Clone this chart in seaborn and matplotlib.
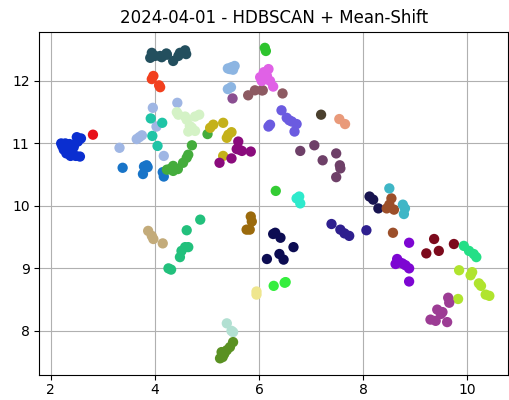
import numpy as np
import pandas as pd
import matplotlib
matplotlib.use('Agg')
import matplotlib.pyplot as plt
import seaborn as sns

title = '2024-04-01 - HDBSCAN + Mean-Shift'

# one entry per cluster: x values, y values, colour
cluster_x = [
    [2.20, 2.28, 2.36, 2.45, 2.52, 2.58, 2.50, 2.25, 2.30, 2.38, 2.48, 2.56, 2.32, 2.44, 2.22],
    [2.81],
    [3.91, 3.94, 4.00, 4.10, 4.13, 4.23, 4.22, 4.35, 4.45, 4.48, 4.58, 4.60],
    [3.94, 3.97, 4.08, 4.10],
    [3.96, 4.43, 3.65, 3.70, 3.75, 3.32, 4.03, 4.17],
    [3.92, 4.14, 3.95, 4.05],
    [3.38, 3.79, 3.84, 3.77, 4.15, 4.17, 3.86],
    [4.23, 4.29, 4.35, 4.35, 4.44, 4.54, 4.61, 4.64, 4.71, 5.01],
    [4.42, 4.45, 4.58, 4.61, 4.67, 4.71, 4.77, 4.64, 4.77, 4.85],
    [5.06, 5.12, 5.31, 5.38, 5.41, 5.47, 5.31],
    [5.60, 5.57, 5.67, 5.84, 5.47, 5.24, 5.62],
    [5.40, 5.47, 5.53, 5.50, 5.44, 5.40, 5.46],
    [5.49],
    [5.79, 5.92, 6.05, 6.07, 6.45],
    [6.11, 6.13],
    [6.05, 6.09, 6.18, 6.21, 6.27, 6.10, 6.15, 6.02],
    [6.43, 6.53, 6.63, 6.72, 6.68, 6.18, 6.21, 6.58],
    [7.19],
    [7.54, 7.65],
    [6.79, 7.06, 7.22, 7.48, 7.55, 7.56, 7.48],
    [6.32],
    [6.77, 6.79, 6.72],
    [8.12, 8.19, 8.29],
    [8.54, 8.50, 8.45, 8.59, 8.57],
    [8.50, 8.76, 8.80, 8.78],
    [6.15, 6.27, 6.31, 6.41, 6.66, 6.39, 6.47],
    [7.39, 7.56, 7.64, 7.73, 8.06],
    [6.28, 6.49, 6.51],
    [3.87, 3.94, 3.97, 4.15],
    [4.87, 4.61, 4.58, 4.64, 4.51, 4.48, 4.26, 4.31],
    [5.84, 5.86, 5.76, 5.82],
    [5.95, 5.95],
    [5.38, 5.47, 5.50],
    [5.25, 5.28, 5.38, 5.44, 5.50, 5.30, 5.33],
    [8.88, 8.65, 8.69, 8.62, 8.81, 8.88, 8.88, 8.75],
    [9.36, 9.21, 9.45, 9.74],
    [9.93, 10.03, 10.12, 10.17],
    [9.84, 10.09, 10.06, 10.22, 10.26, 10.35, 10.42, 9.82],
    [9.63, 9.65, 9.42, 9.52, 9.49, 9.29, 9.39, 9.61],
]
cluster_y = [
    [11.00, 11.00, 10.99, 10.98, 11.03, 11.08, 11.10, 10.90, 10.84, 10.80, 10.80, 10.79, 10.93, 10.94, 10.96],
    [11.14],
    [12.37, 12.45, 12.40, 12.40, 12.38, 12.42, 12.44, 12.32, 12.40, 12.45, 12.49, 12.43],
    [12.03, 12.08, 11.93, 11.90],
    [11.57, 11.65, 11.07, 11.10, 11.13, 10.93, 11.27, 10.80],
    [11.40, 11.33, 11.12, 10.96],
    [10.61, 10.63, 10.65, 10.51, 10.54, 10.47, 10.62],
    [10.58, 10.59, 10.64, 10.56, 10.59, 10.69, 10.77, 10.82, 10.97, 11.15],
    [11.50, 11.46, 11.43, 11.38, 11.28, 11.25, 11.20, 11.19, 11.43, 11.46],
    [11.25, 11.30, 11.33, 11.09, 11.14, 11.18, 10.80],
    [11.03, 10.91, 10.88, 10.87, 10.76, 10.69, 10.90],
    [12.20, 12.22, 12.24, 12.18, 12.19, 11.87, 11.90],
    [11.72],
    [11.77, 11.85, 11.85, 11.85, 11.80],
    [12.53, 12.48],
    [12.00, 12.14, 12.19, 12.00, 11.91, 12.05, 12.08, 12.06],
    [11.53, 11.41, 11.35, 11.31, 11.19, 11.27, 11.30, 11.37],
    [11.46],
    [11.39, 11.31],
    [10.88, 10.97, 10.73, 10.84, 10.65, 10.60, 10.46],
    [10.24],
    [10.15, 10.04, 10.12],
    [10.15, 10.10, 9.96],
    [10.12, 10.02, 9.96, 9.94, 9.57],
    [10.28, 10.02, 9.96, 9.87],
    [9.15, 9.55, 9.57, 9.49, 9.34, 9.23, 9.14],
    [9.71, 9.62, 9.56, 9.52, 9.61],
    [8.72, 8.77, 8.78],
    [9.60, 9.52, 9.47, 9.40],
    [9.78, 9.61, 9.34, 9.34, 9.28, 9.18, 9.00, 8.98],
    [9.83, 9.75, 9.62, 9.62],
    [8.58, 8.63],
    [8.12, 8.00, 7.98],
    [7.56, 7.66, 7.69, 7.74, 7.82, 7.58, 7.63],
    [9.41, 9.15, 9.10, 9.07, 9.05, 9.00, 8.79, 9.08],
    [9.47, 9.24, 9.28, 9.39],
    [9.36, 9.28, 9.23, 9.18],
    [8.97, 8.94, 8.89, 8.76, 8.72, 8.58, 8.56, 8.51],
    [8.53, 8.45, 8.34, 8.30, 8.27, 8.18, 8.16, 8.14],
]
cluster_colors = [
    '#0a2ed0', '#e8101a', '#234f5e', '#f2401e', '#9fb6e4', '#1fc4a6', '#1874c8',
    '#44ac3c', '#d4f2c6', '#c4b11a', '#8a0b7c', '#8cb5e2', '#8a4f91', '#8d5a62',
    '#2ec42e', '#e061e6', '#6b5be0', '#4a402e', '#e99a7a', '#6e4068', '#33cc33',
    '#2eeacc', '#181450', '#9c4f2a', '#3fb6c6', '#0c0c52', '#2e1f8e', '#35ee3e',
    '#c3ab7a', '#22c07c', '#9b6a0c', '#efe68e', '#b2e0d2', '#5a9122', '#7d06d2',
    '#7c0a1c', '#24df86', '#b0e42e', '#9c3c94',
]

rows = []
for i, (xs, ys) in enumerate(zip(cluster_x, cluster_y)):
    for x, y in zip(xs, ys):
        rows.append({'x': x, 'y': y, 'cluster': i})
df = pd.DataFrame(rows)
palette = {i: c for i, c in enumerate(cluster_colors)}

fig = plt.figure(figsize=(5.09, 4.0), dpi=100)
# axes sit a little higher than the reference so the x tick labels stay inside
ax = fig.add_axes([0.0772, 0.062, 0.921, 0.859])
sns.scatterplot(data=df, x='x', y='y', hue='cluster', palette=palette,
                s=55, linewidth=0, legend=False, ax=ax, zorder=3)
ax.set_xlim(1.78, 10.78)
ax.set_ylim(7.29, 12.79)
ax.set_xticks([2, 4, 6, 8, 10])
ax.set_yticks([8, 9, 10, 11, 12])
ax.tick_params(axis='x', pad=2)
ax.grid(True)
ax.set_axisbelow(True)
ax.set_xlabel('')
ax.set_ylabel('')
ax.set_title(title, fontsize=12)
fig.savefig('out.png', dpi=100)
